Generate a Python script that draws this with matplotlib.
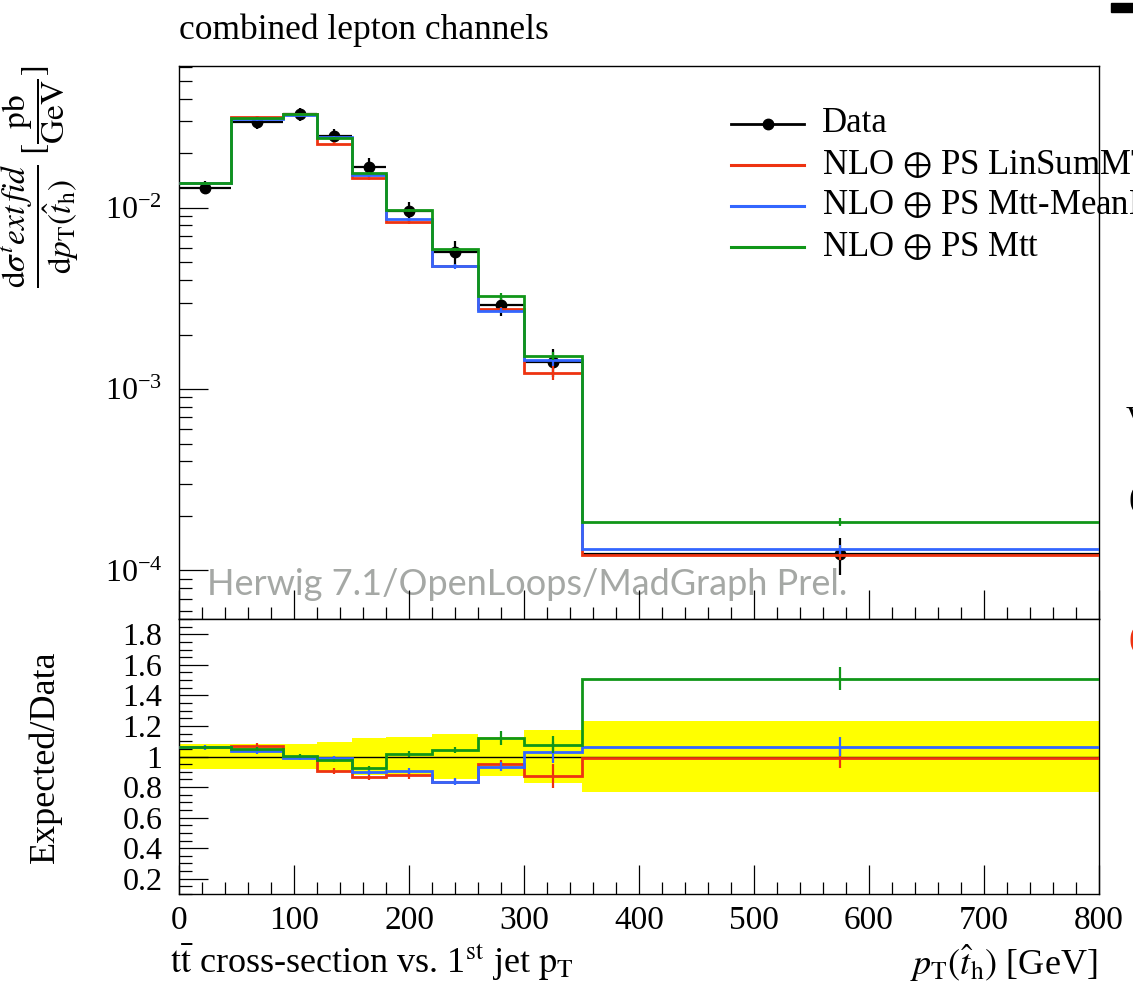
import numpy as np
import matplotlib
matplotlib.use("Agg")
import matplotlib.pyplot as plt
from matplotlib.ticker import MultipleLocator, FuncFormatter, LogLocator
from matplotlib.patches import Rectangle

plt.rcParams['font.family'] = ['Liberation Serif', 'DejaVu Serif']
plt.rcParams['mathtext.fontset'] = 'stix'

# ---------------- data ----------------
edges = [0, 45, 90, 120, 150, 180, 220, 260, 300, 350, 800]
data_vals = [0.01293, 0.0297, 0.0329, 0.0249, 0.01686, 0.00955, 0.00568, 0.0029, 0.00141, 1.23e-4]
data_relerr = [0.08, 0.08, 0.085, 0.095, 0.12, 0.125, 0.15, 0.13, 0.175, 0.23]

linsum_vals = [0.01371, 0.03178, 0.03274, 0.02253, 0.01458, 0.00837, 0.00475, 0.00275, 0.001227, 1.221e-4]
meanmt_vals = [0.01371, 0.03068, 0.03257, 0.02465, 0.01512, 0.00865, 0.00475, 0.00271, 0.001447, 1.31e-4]
mtt_vals = [0.01371, 0.03119, 0.03306, 0.02428, 0.01555, 0.00971, 0.00591, 0.00325, 0.00152, 1.857e-4]

linsum_relerr = [0.01, 0.015, 0.01, 0.02, 0.02, 0.025, 0.02, 0.03, 0.09, 0.07]
meanmt_relerr = [0.015, 0.015, 0.01, 0.015, 0.02, 0.02, 0.03, 0.03, 0.07, 0.06]
mtt_relerr = [0.01, 0.01, 0.01, 0.01, 0.015, 0.02, 0.02, 0.04, 0.05, 0.05]

labels = ["Data",
          r"NLO $\oplus$ PS LinSumMT",
          r"NLO $\oplus$ PS Mtt-MeanMT",
          r"NLO $\oplus$ PS Mtt"]
colors = ["#EE3311", "#3366FF", "#109618"]

# ---------------- layout ----------------
W, H = 1133, 983
fig = plt.figure(figsize=(W / 100, H / 100), dpi=100)
L, R = 179, 1099
T_main, B_main, B_ratio = 66, 619, 894
ax = fig.add_axes([L / W, 1 - B_main / H, (R - L) / W, (B_main - T_main) / H])
axr = fig.add_axes([L / W, 1 - B_ratio / H, (R - L) / W, (B_ratio - B_main) / H])

edges_a = np.array(edges, dtype=float)
centers = 0.5 * (edges_a[1:] + edges_a[:-1])
halfw = 0.5 * (edges_a[1:] - edges_a[:-1])
data = np.array(data_vals)
derr = np.array(data_relerr)

models = [np.array(linsum_vals), np.array(meanmt_vals), np.array(mtt_vals)]
merrs = [np.array(linsum_relerr), np.array(meanmt_relerr), np.array(mtt_relerr)]

# ---------------- main panel ----------------
ax.errorbar(centers, data, xerr=halfw, yerr=data * derr, fmt='o', color='black',
            ms=7.5, lw=1.6, capsize=0, zorder=2)
for m, e, c in zip(models, merrs, colors):
    ax.stairs(m, edges_a, color=c, lw=2.0, baseline=None, zorder=3)
    ax.errorbar(centers, m, yerr=m * e, fmt='none', ecolor=c, lw=1.6, capsize=0, zorder=3)

ax.set_yscale('log')
ax.set_xlim(0, 800)
ax.set_ylim(5.4e-5, 0.0605)
ax.xaxis.set_major_locator(MultipleLocator(100))
ax.xaxis.set_minor_locator(MultipleLocator(20))
ax.yaxis.set_major_locator(LogLocator(base=10, numticks=10))
ax.yaxis.set_minor_locator(LogLocator(base=10, subs=np.arange(2, 10), numticks=20))
ax.tick_params(which='both', direction='in', top=False, right=False,
               labelbottom=False, labelsize=23, width=0.9, pad=12)
ax.tick_params(which='major', length=21)
ax.tick_params(which='minor', length=9)

# watermark
ax.text((207 - L) / (R - L), (B_main - 595) / (B_main - T_main),
        "Herwig 7.1/OpenLoops/MadGraph Prel.", transform=ax.transAxes,
        fontsize=26, color='#a5a8a5', family='Lato', va='baseline', ha='left', zorder=1)

# legend (manual)
ytxt = [124, 165, 206, 247]
for i, (lab, y) in enumerate(zip(labels, ytxt)):
    yf = 1 - y / H
    if i == 0:
        fig.add_artist(plt.Line2D([731 / W, 804 / W], [yf, yf], color='black', lw=2))
        fig.add_artist(plt.Line2D([768 / W], [yf], color='black', marker='o', ms=7.5))
    else:
        fig.add_artist(plt.Line2D([731 / W, 804 / W], [yf, yf], color=colors[i - 1], lw=2.2))
    fig.text(822 / W, yf, lab, fontsize=25, va='center', ha='left')

# ---------------- ratio panel ----------------
axr.stairs(1 + derr, edges_a, baseline=1 - derr, fill=True, color='#FFFF00', zorder=1)
axr.axhline(1, color='black', lw=1.0, zorder=2)
for m, e, c in zip(models, merrs, colors):
    r = m / data
    axr.stairs(r, edges_a, color=c, lw=2.0, baseline=None, zorder=3)
    axr.errorbar(centers, r, yerr=r * e, fmt='none', ecolor=c, lw=1.6, capsize=0, zorder=3)

axr.set_xlim(0, 800)
axr.set_ylim(0.1, 1.9)
axr.xaxis.set_major_locator(MultipleLocator(100))
axr.xaxis.set_minor_locator(MultipleLocator(20))
axr.yaxis.set_major_locator(MultipleLocator(0.2))
axr.yaxis.set_minor_locator(MultipleLocator(0.05))
axr.yaxis.set_major_formatter(FuncFormatter(lambda v, p: '%g' % round(v, 2)))
axr.tick_params(which='both', direction='in', top=False, right=False,
                labelsize=23, width=0.9)
axr.tick_params(axis='x', labelsize=24)
axr.tick_params(axis='y', pad=12)
axr.tick_params(axis='x', pad=8)
axr.tick_params(which='major', length=21)
axr.tick_params(which='minor', length=9)

for a in (ax, axr):
    for s in a.spines.values():
        s.set_linewidth(1.0)

# ---------------- labels ----------------
fig.text(179 / W, 1 - 30 / H, "combined lepton channels", fontsize=25.5, va='center', ha='left')
fig.text(40 / W, 1 - 66 / H,
         r"$\dfrac{\mathrm{d}\sigma^{t}ext\,fid}{\mathrm{d}p_\mathrm{T}(\hat{t}_\mathrm{h})}\ [\dfrac{\mathrm{pb}}{\mathrm{GeV}}]$",
         rotation=90, fontsize=24, ha='center', va='top')
fig.text(45 / W, 1 - 757 / H, "Expected/Data", rotation=90, fontsize=26,
         ha='center', va='center')
fig.text(170 / W, 1 - 963 / H,
         r"$\mathrm{t\bar{t}}$ cross-section vs. 1$^{\mathrm{st}}$ jet $\mathrm{p_T}$",
         fontsize=26, ha='left', va='center')
fig.text(1097 / W, 1 - 963 / H, r"$p_\mathrm{T}(\hat{t}_\mathrm{h})$ [GeV]",
         fontsize=26, ha='right', va='center')

# clipped fragments at the right edge
fig.add_artist(Rectangle((1111 / W, 1 - 12 / H), 30 / W, 9 / H, transform=fig.transFigure,
                         color='black'))
fig.text(1126 / W, 1 - 420 / H, "V", fontsize=24, ha='left', va='center')
fig.text(1128 / W, 1 - 500 / H, "(", fontsize=24, ha='left', va='center')
fig.text(1128 / W, 1 - 640 / H, "(", fontsize=24, ha='left', va='center', color='#EE3311')

fig.savefig("out.png", dpi=100)
